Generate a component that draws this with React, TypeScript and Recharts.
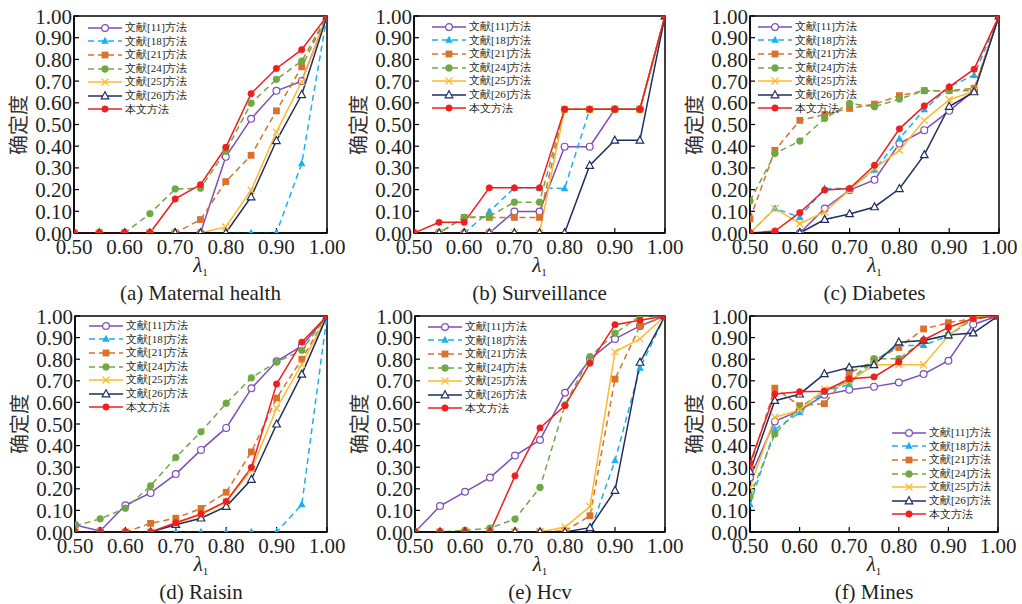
import React from 'react';
import { LineChart, Line, XAxis, YAxis, ReferenceArea } from 'recharts';

const lambdas = [0.5, 0.55, 0.6, 0.65, 0.7, 0.75, 0.8, 0.85, 0.9, 0.95, 1.0];
const xTicks = [0.5, 0.6, 0.7, 0.8, 0.9, 1.0];
const yTicks = [0, 0.1, 0.2, 0.3, 0.4, 0.5, 0.6, 0.7, 0.8, 0.9, 1.0];
const seriesNames = ['文献[11]方法', '文献[18]方法', '文献[21]方法', '文献[24]方法', '文献[25]方法', '文献[26]方法', '本文方法'];
const colors = ['#7E4DB8', '#1DB0EE', '#D8722C', '#6FA845', '#FFB92E', '#1F2D5E', '#F01E1E'];
const dashed = [false, true, true, true, false, false, false];
const shapes = ['openCircle', 'triangle', 'square', 'circle', 'cross', 'openTriangle', 'dot'];

// each row: one series over lambdas (order = seriesNames)
const maternalHealth = [
  [0, 0, 0, 0, 0, 0, 0.351, 0.526, 0.655, 0.70, 1],
  [0, 0, 0, 0, 0, 0, 0, 0, 0, 0.32, 1],
  [0, 0, 0, 0, 0, 0.062, 0.237, 0.358, 0.563, 0.766, 1],
  [0, 0, 0, 0.089, 0.203, 0.206, 0.377, 0.598, 0.708, 0.792, 1],
  [0, 0, 0, 0, 0, 0, 0.028, 0.197, 0.465, 0.697, 1],
  [0, 0, 0, 0, 0, 0, 0, 0.166, 0.425, 0.637, 1],
  [0, 0, 0, 0, 0.157, 0.223, 0.395, 0.642, 0.758, 0.845, 1],
];
const surveillance = [
  [0, 0, 0, 0, 0.099, 0.099, 0.398, 0.398, 0.57, 0.57, 1],
  [0, 0, 0, 0.099, 0.208, 0.208, 0.205, 0.57, 0.57, 0.57, 1],
  [0, 0, 0.072, 0.072, 0.072, 0.072, 0.57, 0.57, 0.57, 0.57, 1],
  [0, 0, 0.072, 0.076, 0.142, 0.142, 0.57, 0.57, 0.57, 0.57, 1],
  [0, 0, 0, 0, 0, 0, 0.57, 0.57, 0.57, 0.57, 1],
  [0, 0, 0, 0, 0, 0, 0, 0.311, 0.427, 0.427, 1],
  [0, 0.049, 0.049, 0.208, 0.208, 0.208, 0.57, 0.57, 0.57, 0.57, 1],
];
const diabetes = [
  [0, 0, 0, 0.113, 0.198, 0.245, 0.412, 0.474, 0.563, 0.656, 1],
  [0, 0.113, 0.073, 0.205, 0.205, 0.29, 0.434, 0.569, 0.674, 0.727, 1],
  [0.065, 0.381, 0.519, 0.546, 0.574, 0.594, 0.633, 0.656, 0.656, 0.667, 1],
  [0.148, 0.366, 0.424, 0.528, 0.597, 0.582, 0.617, 0.656, 0.656, 0.656, 1],
  [0, 0.113, 0.043, 0.097, 0.198, 0.298, 0.381, 0.519, 0.614, 0.653, 1],
  [0, 0, 0, 0.062, 0.088, 0.12, 0.204, 0.36, 0.583, 0.65, 1],
  [0, 0.009, 0.094, 0.198, 0.205, 0.312, 0.48, 0.586, 0.673, 0.755, 1],
];
const raisin = [
  [0.032, 0.005, 0.124, 0.181, 0.268, 0.38, 0.482, 0.665, 0.79, 0.862, 1],
  [0, 0, 0, 0, 0, 0, 0, 0, 0, 0.127, 1],
  [0, 0, 0, 0.04, 0.064, 0.109, 0.184, 0.371, 0.62, 0.80, 1],
  [0.028, 0.061, 0.11, 0.214, 0.345, 0.464, 0.596, 0.714, 0.787, 0.841, 1],
  [0, 0, 0, 0, 0.04, 0.08, 0.139, 0.288, 0.573, 0.776, 1],
  [0, 0, 0, 0, 0.034, 0.064, 0.118, 0.243, 0.499, 0.73, 1],
  [0, 0, 0, 0, 0.043, 0.084, 0.142, 0.299, 0.685, 0.879, 1],
];
const hcv = [
  [0, 0.12, 0.186, 0.252, 0.354, 0.426, 0.645, 0.80, 0.894, 0.954, 1],
  [0, 0, 0, 0, 0, 0, 0, 0, 0.331, 0.76, 1],
  [0, 0, 0, 0, 0, 0, 0.005, 0.075, 0.708, 0.954, 1],
  [0, 0, 0.008, 0.018, 0.06, 0.206, 0.588, 0.812, 0.92, 1.0, 1],
  [0, 0, 0, 0, 0, 0, 0.023, 0.118, 0.834, 0.894, 1],
  [0, 0, 0, 0, 0, 0, 0, 0.02, 0.192, 0.785, 1],
  [0, 0, 0, 0, 0.26, 0.482, 0.585, 0.782, 0.96, 0.98, 1],
];
const mines = [
  [0.252, 0.512, 0.562, 0.635, 0.659, 0.673, 0.692, 0.731, 0.793, 0.961, 1],
  [0.127, 0.475, 0.553, 0.649, 0.684, 0.794, 0.862, 0.865, 0.907, 0.988, 1],
  [0.303, 0.666, 0.585, 0.594, 0.734, 0.794, 0.854, 0.94, 0.969, 0.988, 1],
  [0.164, 0.454, 0.577, 0.652, 0.698, 0.802, 0.802, 0.885, 0.912, 0.988, 1],
  [0.207, 0.531, 0.565, 0.661, 0.698, 0.774, 0.774, 0.774, 0.907, 1.0, 1],
  [0.28, 0.608, 0.638, 0.732, 0.762, 0.774, 0.879, 0.887, 0.912, 0.921, 1],
  [0.319, 0.639, 0.649, 0.652, 0.709, 0.718, 0.788, 0.889, 0.947, 0.988, 1],
];

const panelTitles = ['(a) Maternal health', '(b) Surveillance', '(c) Diabetes', '(d) Raisin', '(e) Hcv', '(f) Mines'];
const panelValues = [maternalHealth, surveillance, diabetes, raisin, hcv, mines];
// plot rectangles: left, top, width, height ; legend: x, y of first row
const panelRects = [
  [74, 16, 253, 217], [414, 16, 251, 217], [750, 16, 249, 217],
  [75, 316, 252, 216], [415, 316, 250, 216], [750, 316, 248, 216],
];
const legendPos = [[88, 28], [432, 27], [758, 27], [89, 326], [428, 327], [892, 433]];

const SERIF = "Liberation Serif, Tinos, Times New Roman, Times, serif";
const TXT = '#231f20';
const TICK_FS = 21;

function Marker({ shape, color, cx, cy }: { shape: string; color: string; cx: number; cy: number }) {
  const r = 3.4;
  switch (shape) {
    case 'openCircle':
      return <circle cx={cx} cy={cy} r={r} fill="#fff" stroke={color} strokeWidth={1.2} />;
    case 'circle':
      return <circle cx={cx} cy={cy} r={r} fill={color} stroke={color} strokeWidth={0.5} />;
    case 'dot':
      return <circle cx={cx} cy={cy} r={3.2} fill={color} stroke={color} strokeWidth={0.6} />;
    case 'square':
      return <rect x={cx - r} y={cy - r} width={2 * r} height={2 * r} fill={color} />;
    case 'triangle':
      return <polygon points={`${cx},${cy - 4.2} ${cx - 3.8},${cy + 2.8} ${cx + 3.8},${cy + 2.8}`} fill={color} />;
    case 'openTriangle':
      return <polygon points={`${cx},${cy - 4.2} ${cx - 3.8},${cy + 2.8} ${cx + 3.8},${cy + 2.8}`} fill="#fff" stroke={color} strokeWidth={1.2} />;
    case 'cross':
      return (
        <g stroke={color} strokeWidth={1.3}>
          <line x1={cx - 3.5} y1={cy - 3.5} x2={cx + 3.5} y2={cy + 3.5} />
          <line x1={cx - 3.5} y1={cy + 3.5} x2={cx + 3.5} y2={cy - 3.5} />
        </g>
      );
    default:
      return null;
  }
}

function makeDot(si: number) {
  return (p: any) => {
    if (p.cx == null || p.cy == null) return <g key={`e-${si}-${p.index}`} />;
    return (
      <g key={`d-${si}-${p.index}`}>
        <Marker shape={shapes[si]} color={colors[si]} cx={p.cx} cy={p.cy} />
      </g>
    );
  };
}

function XTick(p: any) {
  return (
    <text x={p.x} y={p.y} dy="0.71em" textAnchor="middle" fontFamily={SERIF} fontSize={TICK_FS} fill={TXT} style={{ fontFamily: SERIF }}>
      {Number(p.payload.value).toFixed(2)}
    </text>
  );
}

function YTick(p: any) {
  return (
    <text x={p.x} y={p.y} dy="0.36em" textAnchor="end" fontFamily={SERIF} fontSize={TICK_FS} fill={TXT} style={{ fontFamily: SERIF }}>
      {Number(p.payload.value).toFixed(2)}
    </text>
  );
}

function LegendBox({ x, y }: { x: number; y: number }) {
  return (
    <div style={{ position: 'absolute', left: x, top: y - 7, lineHeight: '13.6px' }}>
      {seriesNames.map((n, i) => (
        <div key={n} style={{ display: 'flex', alignItems: 'center', height: 13.6 }}>
          <svg width={34} height={12} style={{ display: 'block' }}>
            <line x1={0} y1={6} x2={34} y2={6} stroke={colors[i]} strokeWidth={1.5} strokeDasharray={dashed[i] ? '6 4' : undefined} />
            <Marker shape={shapes[i]} color={colors[i]} cx={17} cy={6} />
          </svg>
          <span style={{ marginLeft: 3, fontFamily: SERIF, fontSize: 11, color: TXT, whiteSpace: 'nowrap' }}>{n}</span>
        </div>
      ))}
    </div>
  );
}

function Panel({ idx }: { idx: number }) {
  const [L, T, W, H] = panelRects[idx];
  const vals = panelValues[idx];
  const data = lambdas.map((lam, i) => {
    const row: any = { lam };
    vals.forEach((s, si) => {
      row[`s${si}`] = s[i];
    });
    return row;
  });
  const mTop = 20;
  const mRight = 30;
  const boxLeft = L - 74;
  const boxTop = T - mTop;
  const width = 74 + W + mRight;
  const height = mTop + H + 40;
  const cx = L + W / 2;
  const [lx, ly] = legendPos[idx];
  return (
    <>
      <div style={{ position: 'absolute', left: boxLeft, top: boxTop }}>
        <LineChart width={width} height={height} data={data} margin={{ top: mTop, right: mRight, bottom: 10, left: 14 }}>
          <XAxis
            dataKey="lam"
            type="number"
            domain={[0.5, 1]}
            ticks={xTicks}
            height={30}
            tickSize={-5}
            tickMargin={11}
            axisLine={{ stroke: '#000', strokeWidth: 1.5 }}
            tickLine={{ stroke: '#000', strokeWidth: 1.2 }}
            tick={<XTick />}
            interval={0}
            allowDataOverflow
          />
          <YAxis
            type="number"
            domain={[0, 1]}
            ticks={yTicks}
            width={60}
            tickSize={-5}
            tickMargin={7}
            axisLine={{ stroke: '#000', strokeWidth: 1.5 }}
            tickLine={{ stroke: '#000', strokeWidth: 1.2 }}
            tick={<YTick />}
            interval={0}
            allowDataOverflow
          />
          <ReferenceArea x1={0.5} x2={1} y1={0} y2={1} fill="none" stroke="#000" strokeWidth={1.5} />
          {vals.map((_, si) => (
            <Line
              key={si}
              dataKey={`s${si}`}
              type="linear"
              stroke={colors[si]}
              strokeWidth={1.5}
              strokeDasharray={dashed[si] ? '6 4' : undefined}
              dot={makeDot(si)}
              activeDot={false}
              isAnimationActive={false}
            />
          ))}
        </LineChart>
      </div>
      <LegendBox x={lx} y={ly} />
      <div
        style={{
          position: 'absolute',
          left: L - 56,
          top: T + H / 2,
          transform: 'translate(-50%, -50%) rotate(-90deg)',
          fontFamily: "Noto Sans CJK SC, sans-serif",
          fontSize: 20,
          color: '#333',
          whiteSpace: 'nowrap',
          lineHeight: '22px',
        }}
      >
        确定度
      </div>
      <div
        style={{
          position: 'absolute',
          left: cx,
          top: T + H + 21,
          transform: 'translateX(-50%)',
          fontFamily: SERIF,
          fontSize: 21,
          fontStyle: 'italic',
          color: TXT,
          lineHeight: '22px',
          whiteSpace: 'nowrap',
        }}
      >
        λ<span style={{ fontSize: 11, fontStyle: 'normal', verticalAlign: '-4px' }}>1</span>
      </div>
      <div
        style={{
          position: 'absolute',
          left: cx,
          top: T + H + 49,
          transform: 'translateX(-50%)',
          fontFamily: SERIF,
          fontSize: 21,
          color: TXT,
          lineHeight: '22px',
          whiteSpace: 'nowrap',
        }}
      >
        {panelTitles[idx]}
      </div>
    </>
  );
}

export default function App() {
  return (
    <div style={{ position: 'absolute', left: 0, top: 0, width: 1022, height: 604, background: '#fff', overflow: 'hidden' }}>
      {panelTitles.map((_, i) => (
        <Panel key={i} idx={i} />
      ))}
    </div>
  );
}
